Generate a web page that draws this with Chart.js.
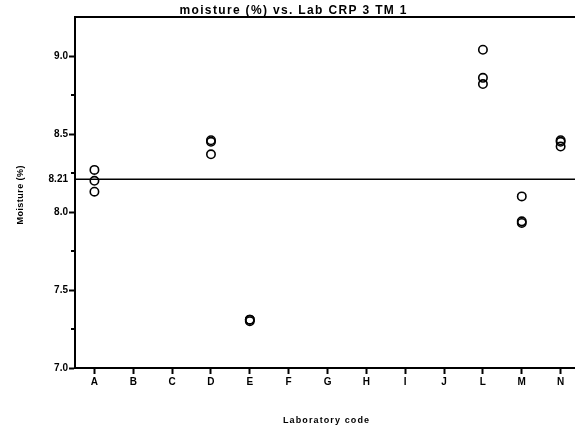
<!DOCTYPE html>
<html>
<head>
<meta charset="utf-8">
<script src="https://cdn.jsdelivr.net/npm/chart.js@4.4.1/dist/chart.umd.min.js"></script>
<style>
  html, body { margin: 0; padding: 0; background: #fff; }
  #wrap { width: 575px; height: 430px; }
</style>
</head>
<body>
<div id="wrap"><canvas id="moistChart"></canvas></div>
<script>
const labs = ['A', 'B', 'C', 'D', 'E', 'F', 'G', 'H', 'I', 'J', 'L', 'M', 'N'];
// three replicate results per lab (null = not reported)
const rep1 = [8.27, null, null, 8.46, 7.31, null, null, null, null, null, 9.04, 8.10, 8.46];
const rep2 = [8.20, null, null, 8.45, 7.31, null, null, null, null, null, 8.86, 7.94, 8.45];
const rep3 = [8.13, null, null, 8.37, 7.30, null, null, null, null, null, 8.82, 7.93, 8.42];
const assigned = 8.21;
const majorTicks = [7.0, 7.5, 8.0, 8.5, 9.0];
const minorTicks = [7.25, 7.75, 8.25, 8.75];

const FONT = "'Liberation Sans', Arial, sans-serif";

const points = [];
[rep1, rep2, rep3].forEach(rep => {
  rep.forEach((v, i) => { if (v !== null) points.push({ x: i, y: v }); });
});

function spacedText(ctx, text, x, y, width) {
  // stretch text to a given width by spreading the letters
  const n = text.length;
  const w = ctx.measureText(text).width;
  const gap = n > 1 ? (width - w) / (n - 1) : 0;
  let cx = x - width / 2;
  for (const ch of text) {
    ctx.fillText(ch, cx, y);
    cx += ctx.measureText(ch).width + gap;
  }
}

const decorations = {
  id: 'decorations',
  afterDraw(chart) {
    const { ctx, chartArea: a, scales } = chart;
    const ys = scales.y;
    ctx.save();
    ctx.strokeStyle = '#000';
    ctx.fillStyle = '#000';

    // frame top
    ctx.lineWidth = 2;
    ctx.beginPath();
    ctx.moveTo(a.left - 1, a.top);
    ctx.lineTo(a.right, a.top);
    ctx.stroke();

    // assigned value line
    const yr = ys.getPixelForValue(assigned);
    ctx.lineWidth = 1.5;
    ctx.beginPath();
    ctx.moveTo(a.left, yr);
    ctx.lineTo(a.right, yr);
    ctx.stroke();

    // short minor ticks
    ctx.lineWidth = 2;
    minorTicks.forEach(v => {
      const py = Math.round(ys.getPixelForValue(v));
      ctx.beginPath();
      ctx.moveTo(a.left - 4, py);
      ctx.lineTo(a.left, py);
      ctx.stroke();
    });

    ctx.textBaseline = 'alphabetic';
    ctx.textAlign = 'left';

    // title
    ctx.font = 'bold 12px ' + FONT;
    spacedText(ctx, 'moisture (%) vs. Lab CRP 3 TM 1', 293, 14, 227);

    // x axis title
    ctx.font = 'bold 9px ' + FONT;
    spacedText(ctx, 'Laboratory code', 326, 423, 86);

    // y axis title
    ctx.translate(23, 195);
    ctx.rotate(-Math.PI / 2);
    spacedText(ctx, 'Moisture (%)', 0, 0, 59);
    ctx.restore();
  }
};

new Chart(document.getElementById('moistChart'), {
  type: 'scatter',
  data: {
    datasets: [{
      data: points,
      pointStyle: 'circle',
      pointRadius: 4.2,
      pointHoverRadius: 4.2,
      borderWidth: 1.6,
      borderColor: '#000',
      backgroundColor: 'rgba(255,255,255,0)'
    }]
  },
  options: {
    responsive: true,
    maintainAspectRatio: false,
    animation: false,
    layout: { autoPadding: false, padding: { top: 17, left: 0, right: 0, bottom: 0 } },
    plugins: { legend: { display: false }, tooltip: { enabled: false }, title: { display: false } },
    scales: {
      x: {
        type: 'linear',
        min: -0.5,
        max: 12.37,
        afterFit: s => { s.height = 62; s.paddingLeft = 0; s.paddingRight = 0; },
        afterBuildTicks: s => { s.ticks = labs.map((c, i) => ({ value: i })); },
        border: { color: '#000', width: 2 },
        grid: { drawOnChartArea: false, drawTicks: true, tickLength: 6, tickColor: '#000', tickWidth: 2 },
        ticks: {
          callback: v => labs[v],
          color: '#000',
          padding: 2,
          maxRotation: 0,
          autoSkip: false,
          font: { family: FONT, size: 10, weight: 'bold' }
        }
      },
      y: {
        min: 7.0,
        max: 9.25,
        afterFit: s => { s.width = 75; s.paddingTop = 0; s.paddingBottom = 0; },
        afterBuildTicks: s => { s.ticks = majorTicks.concat([assigned]).map(v => ({ value: v })); },
        border: { color: '#000', width: 2 },
        grid: {
          drawOnChartArea: false,
          drawTicks: true,
          tickLength: 6,
          tickWidth: 2,
          tickColor: ctx => ctx.tick && ctx.tick.value === assigned ? 'rgba(0,0,0,0)' : '#000'
        },
        ticks: {
          callback: v => v === assigned ? v.toFixed(2) : v.toFixed(1),
          color: '#000',
          padding: 1,
          font: { family: FONT, size: 10, weight: 'bold' }
        }
      }
    }
  },
  plugins: [decorations]
});
</script>
</body>
</html>
